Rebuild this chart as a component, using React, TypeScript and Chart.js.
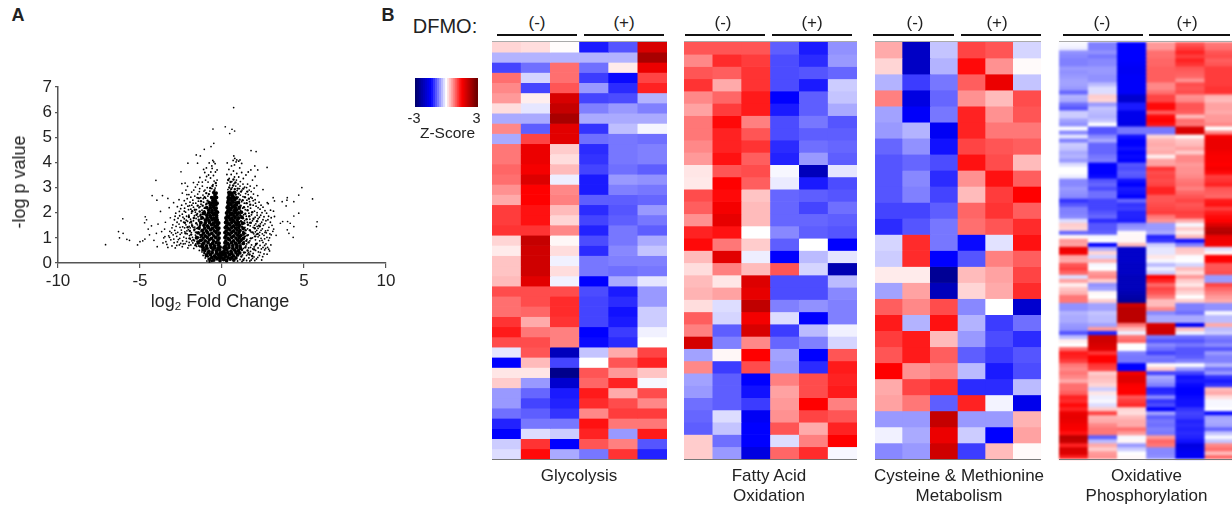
import React, { useEffect, useRef } from "react";
import { Chart, registerables } from "chart.js";

Chart.register(...registerables);

const FONT = '"Liberation Sans", Arial, sans-serif';
const INK = "#222222";

// ---------- Panel A : volcano plot ----------
const xTickLabels = [-10, -5, 0, 5, 10];
const yTickLabels = [0, 1, 2, 3, 4, 5, 6, 7];

const outlierPoints = [
  [0.71, 6.18], [-0.55, 5.33], [0.2, 5.42], [0.61, 5.32], [0.77, 5.25], [0.47, 5.15], [-0.5, 4.76], [-0.67, 4.63],
  [-1.08, 4.52], [-1.57, 4.3], [-1.32, 4.26], [1.77, 4.47], [2.08, 4.43], [-1.49, 3.97], [-2.08, 3.97], [-2.5, 3.63],
  [-4.03, 3.29], [2.75, 3.8], [2.0, 3.86], [2.18, 3.7], [4.87, 3.0], [5.52, 2.55], [4.68, 2.7], [3.12, 2.6],
  [3.98, 2.6], [3.2, 2.47], [3.67, 2.44], [3.96, 2.5], [3.91, 2.27], [4.38, 2.44], [4.68, 1.98], [4.38, 1.87],
  [5.8, 1.64], [5.76, 1.45], [-6.05, 1.76], [-6.31, 1.25], [-6.03, 1.18], [-6.25, 1.0], [-5.8, 0.94], [-5.64, 0.9],
  [-7.1, 0.73], [-5.15, 0.72], [-5.0, 0.85], [-4.83, 0.88], [-4.26, 2.68], [-3.63, 2.68], [-3.97, 2.5], [-3.3, 2.57],
  [-4.68, 1.84], [-4.72, 1.6], [-4.6, 1.72], [4.34, 1.02], [3.7, 1.65], [3.56, 1.58], [4.0, 1.65], [4.16, 1.58],
  [4.38, 1.45], [3.98, 1.32], [4.08, 1.18], [3.3, 1.1], [-4.5, 1.35], [-4.42, 1.12], [-4.7, 0.95], [-4.3, 1.48],
  [-4.15, 0.9], [-4.0, 1.18], [-3.95, 0.65], [-3.75, 2.05], [-3.9, 1.55], [-3.68, 1.25], [-3.55, 1.0], [-3.6, 0.8],
  [-3.45, 1.62], [-3.5, 1.35], [-3.48, 1.05], [-3.42, 0.85], [-3.22, 2.2], [-3.15, 1.8], [-3.05, 1.4], [-2.95, 2.4],
];

const fringeLeft = [
  [-3.3, 0.62], [-3.05, 0.68], [-2.85, 0.6], [-2.6, 0.72], [-2.42, 0.65], [-2.25, 0.77], [-2.08, 0.6], [-1.9, 0.72],
  [-1.72, 0.58], [-1.55, 0.66], [-1.38, 0.5], [-1.22, 0.44], [-1.45, 0.82], [-1.68, 0.88], [-1.93, 0.95], [-2.18, 0.98],
  [-2.4, 0.88], [-2.66, 0.93], [-2.92, 0.81], [-3.12, 0.92], [-3.25, 1.08], [-2.98, 1.12], [-2.76, 1.06], [-2.55, 1.14],
  [-2.33, 1.03], [-2.12, 1.16], [-1.98, 1.09], [-1.8, 1.02], [-1.62, 1.11], [-1.48, 0.97], [-1.35, 1.13], [-1.28, 0.78],
  [-3.18, 1.26], [-2.88, 1.3], [-2.7, 1.22], [-2.48, 1.31], [-2.27, 1.24], [-2.05, 1.33], [-1.87, 1.21], [-1.7, 1.29],
  [-1.52, 1.2], [-1.38, 1.34], [-1.28, 1.24], [-3.0, 1.52], [-2.8, 1.46], [-2.62, 1.55], [-2.4, 1.44], [-2.2, 1.52],
  [-2.0, 1.46], [-1.84, 1.55], [-1.66, 1.43], [-1.5, 1.52], [-1.36, 1.46], [-1.25, 1.58], [-2.9, 1.72], [-2.68, 1.78],
  [-2.5, 1.68], [-2.3, 1.76], [-2.1, 1.66], [-1.92, 1.74], [-1.74, 1.68], [-1.58, 1.77], [-1.42, 1.67], [-1.28, 1.74],
  [-2.82, 1.98], [-2.6, 2.05], [-2.42, 1.94], [-2.22, 2.02], [-2.02, 1.9], [-1.86, 1.98], [-1.68, 1.88], [-1.5, 1.96],
  [-1.34, 1.87], [-1.18, 1.93], [-2.72, 2.24], [-2.46, 2.3], [-2.28, 2.18], [-2.08, 2.26], [-1.9, 2.14], [-1.74, 2.22],
  [-1.56, 2.12], [-1.4, 2.2], [-1.22, 2.1], [-1.08, 2.18], [-2.62, 2.52], [-2.3, 2.48], [-2.12, 2.56], [-1.95, 2.42],
  [-1.78, 2.5], [-1.6, 2.38], [-1.44, 2.46], [-1.28, 2.34], [-1.12, 2.42], [-0.98, 2.32], [-2.42, 2.78], [-2.2, 2.9],
  [-2.02, 2.72], [-1.85, 2.82], [-1.66, 2.66], [-1.48, 2.74], [-1.3, 2.6], [-1.16, 2.7], [-1.0, 2.58], [-0.86, 2.66],
  [-2.45, 3.16], [-2.25, 3.18], [-2.1, 3.05], [-1.62, 3.02], [-1.5, 3.12], [-1.36, 2.96], [-1.2, 3.06], [-1.04, 2.9],
  [-0.9, 3.0], [-0.74, 2.86], [-0.62, 2.96], [-0.5, 2.84], [-0.42, 2.98], [-1.0, 3.3], [-0.85, 3.22], [-0.7, 3.38],
  [-0.55, 3.12], [-0.48, 3.26], [-0.35, 3.08], [-0.3, 3.3], [-0.82, 3.5], [-0.68, 3.62], [-0.52, 3.48], [-0.4, 3.62],
  [-1.12, 3.72], [-0.95, 3.78], [-0.62, 3.86], [-0.5, 4.02], [-0.42, 3.95], [-0.56, 4.08], [-0.78, 3.98], [-1.05, 3.6],
  [-1.35, 3.4], [-1.2, 3.22], [-0.3, 3.7], [-1.25, 0.62], [-1.42, 0.68], [-1.6, 0.76], [-1.78, 0.8], [-2.0, 0.82],
  [-2.52, 0.78], [-2.76, 0.7], [-1.15, 0.3], [-1.02, 0.2], [-0.92, 0.08], [-0.84, 0.16], [-1.3, 1.02], [-1.56, 1.38],
  [-1.76, 1.42], [-1.96, 1.6], [-2.16, 1.86], [-1.46, 1.84], [-1.62, 2.02], [-1.84, 2.3], [-1.34, 2.24], [-1.14, 2.56],
  [-3.36, 0.74], [-3.2, 1.02], [-3.08, 1.2], [-2.94, 0.95], [-2.82, 1.18], [-2.72, 0.84], [-2.58, 0.98], [-2.46, 1.2],
  [-2.36, 0.76], [-2.28, 1.4], [-2.16, 0.86], [-2.14, 1.28], [-2.02, 0.7], [-1.84, 0.88], [-1.94, 1.4], [-2.34, 1.62],
  [-2.56, 1.42], [-2.74, 1.62], [-2.86, 1.86], [-2.58, 1.88], [-2.38, 1.82], [-2.18, 1.7], [-2.04, 2.12], [-2.3, 2.06],
  [-2.52, 2.16], [-2.2, 2.36], [-1.98, 2.28], [-1.76, 2.38], [-1.52, 2.6], [-1.9, 2.62], [-2.14, 2.72], [-1.72, 2.9],
  [-1.38, 2.84], [-1.1, 2.86], [-1.42, 3.22], [-1.74, 3.2], [-0.94, 3.44], [-0.6, 3.76],
];

const fringeRight = [
  [0.95, 0.08], [1.1, 0.14], [1.22, 0.06], [1.36, 0.18], [1.5, 0.1], [1.64, 0.2], [1.78, 0.12], [1.95, 0.24],
  [2.1, 0.16], [2.28, 0.3], [2.42, 0.12], [2.56, 0.36], [1.25, 0.32], [1.42, 0.42], [1.58, 0.36], [1.74, 0.46],
  [1.9, 0.38], [2.05, 0.5], [2.22, 0.44], [2.4, 0.56], [2.6, 0.52], [2.78, 0.62], [2.9, 0.48], [1.3, 0.58],
  [1.46, 0.68], [1.62, 0.6], [1.8, 0.72], [1.96, 0.64], [2.14, 0.78], [2.32, 0.7], [2.5, 0.82], [2.68, 0.76],
  [2.84, 0.9], [2.98, 0.72], [1.34, 0.86], [1.52, 0.94], [1.7, 0.88], [1.86, 1.0], [2.04, 0.92], [2.2, 1.04],
  [2.38, 0.98], [2.56, 1.1], [2.74, 1.02], [2.92, 1.16], [3.1, 1.26], [1.28, 1.1], [1.44, 1.18], [1.6, 1.12],
  [1.76, 1.24], [1.94, 1.16], [2.12, 1.3], [2.3, 1.22], [2.46, 1.36], [2.66, 1.28], [2.86, 1.42], [3.05, 1.5],
  [1.26, 1.34], [1.4, 1.42], [1.56, 1.36], [1.72, 1.48], [1.9, 1.42], [2.06, 1.56], [2.24, 1.5], [2.42, 1.62],
  [2.62, 1.56], [2.8, 1.72], [3.0, 1.8], [3.14, 2.06], [1.24, 1.6], [1.38, 1.68], [1.54, 1.62], [1.7, 1.74],
  [1.86, 1.68], [2.02, 1.82], [2.2, 1.76], [2.36, 1.9], [2.56, 1.84], [2.72, 1.98], [2.96, 2.1], [1.18, 1.84],
  [1.32, 1.92], [1.48, 1.86], [1.64, 1.98], [1.8, 1.92], [1.98, 2.06], [2.14, 2.0], [2.32, 2.14], [2.5, 2.22],
  [2.76, 2.4], [2.82, 2.36], [1.12, 2.1], [1.26, 2.18], [1.42, 2.12], [1.58, 2.24], [1.74, 2.18], [1.9, 2.3],
  [2.08, 2.26], [2.26, 2.42], [1.05, 2.36], [1.2, 2.44], [1.36, 2.38], [1.52, 2.5], [1.68, 2.44], [1.84, 2.58],
  [2.02, 2.52], [2.18, 2.68], [2.5, 2.92], [0.98, 2.62], [1.12, 2.7], [1.28, 2.64], [1.44, 2.76], [1.6, 2.72],
  [1.78, 2.84], [1.96, 2.98], [2.12, 3.08], [0.92, 2.88], [1.06, 2.96], [1.22, 2.9], [1.38, 3.02], [1.56, 3.14],
  [1.72, 3.06], [1.86, 3.3], [2.02, 3.44], [0.72, 2.82], [0.84, 3.06], [0.98, 3.14], [1.12, 3.24], [1.3, 3.36],
  [1.46, 3.5], [1.6, 3.62], [1.76, 3.7], [0.5, 2.86], [0.62, 3.0], [0.74, 3.16], [0.88, 3.3], [1.02, 3.42],
  [1.2, 3.6], [0.36, 2.92], [0.48, 3.1], [0.6, 3.24], [0.76, 3.42], [0.9, 3.56], [1.08, 3.78], [0.32, 3.18],
  [0.44, 3.36], [0.56, 3.52], [0.7, 3.66], [0.3, 3.52], [0.42, 3.72], [0.58, 3.86], [0.32, 3.98], [0.76, 3.9],
  [0.86, 4.02], [0.72, 4.26], [0.78, 4.16], [0.9, 4.1], [1.02, 4.05], [1.2, 3.96], [1.1, 4.1], [0.68, 4.08],
  [1.36, 1.02], [1.5, 0.76], [1.68, 1.6], [2.1, 1.14], [2.3, 0.88], [2.52, 1.5], [2.7, 1.2], [2.9, 1.0],
  [2.85, 0.55], [2.75, 0.35], [2.6, 0.7], [2.48, 0.25], [3.0, 1.12], [3.15, 1.35], [2.95, 1.62], [3.2, 1.85],
  [1.7, 0.08], [1.86, 0.18], [2.0, 0.1], [2.18, 0.22], [2.34, 0.42], [2.5, 0.62], [2.66, 0.58], [2.2, 0.6],
  [2.04, 0.7], [1.88, 0.56], [1.74, 0.62], [1.62, 0.42], [1.5, 0.3], [2.44, 0.9], [2.6, 0.96], [2.28, 1.1],
  [2.46, 1.16], [2.62, 1.22], [2.8, 1.3], [2.38, 1.3], [2.2, 1.38], [2.04, 1.24], [1.98, 1.5], [2.14, 1.46],
  [2.34, 1.56], [2.5, 1.72], [2.68, 1.68], [2.84, 1.86], [2.28, 1.82], [2.44, 2.0], [2.62, 2.08], [2.14, 1.9],
  [2.2, 2.2], [2.38, 2.3], [2.04, 2.38], [1.9, 2.48], [1.76, 2.62], [1.92, 2.74], [1.66, 2.9], [1.5, 3.0],
  [1.28, 3.14], [1.1, 3.06],
];

const densePoints = [
  [-1.62, 0.71], [-1.74, 0.92], [-1.88, 1.13], [-1.55, 1.05], [-1.68, 1.33], [-1.82, 1.48], [-1.96, 1.27], [-2.1, 1.42],
  [-1.57, 1.58], [-1.72, 1.79], [-1.88, 1.64], [-2.02, 1.83], [-1.55, 1.92], [-1.66, 2.12], [-1.82, 2.06], [-1.48, 2.28],
  [-1.36, 2.05], [-1.28, 2.46], [-1.42, 2.58], [-1.18, 2.28], [-1.08, 2.06], [-1.06, 2.62], [-0.96, 2.78], [-0.88, 2.48],
  [-0.8, 2.74], [-0.72, 2.98], [-0.66, 2.62], [-0.58, 3.06], [-0.46, 2.9], [-0.38, 3.18], [-1.44, 1.02], [-1.5, 0.86],
  [-1.34, 0.66], [-1.2, 0.52], [-1.08, 0.4], [-0.98, 0.34], [-0.86, 0.26], [-0.76, 0.05], [-0.62, 0.08], [-1.34, 1.5],
  [-1.42, 1.72], [-1.3, 1.92], [-1.18, 2.0], [-1.98, 0.98], [-2.22, 1.18], [-2.26, 1.6], [-1.58, 1.22], [-1.46, 1.38],
  [-1.26, 1.62], [-1.14, 1.78], [-1.08, 1.94], [-1.02, 2.2], [-0.94, 2.36], [-1.22, 0.9], [-1.38, 0.88], [-1.12, 0.62],
  [1.3, 0.12], [1.18, 0.26], [1.34, 0.42], [1.22, 0.52], [1.42, 0.62], [1.56, 0.5], [1.48, 0.88], [1.62, 0.82],
  [1.76, 0.98], [1.4, 1.06], [1.54, 1.1], [1.7, 1.3], [1.86, 1.22], [2.0, 1.38], [1.44, 1.3], [1.58, 1.52],
  [1.76, 1.6], [1.92, 1.76], [1.36, 1.58], [1.5, 1.74], [1.66, 1.86], [1.84, 2.02], [1.28, 1.78], [1.42, 1.96],
  [1.56, 2.1], [1.72, 2.32], [1.2, 2.02], [1.34, 2.22], [1.5, 2.38], [1.64, 2.56], [1.14, 2.28], [1.26, 2.5],
  [1.4, 2.62], [1.54, 2.84], [1.08, 2.52], [1.02, 2.76], [1.16, 2.84], [1.3, 2.96], [0.96, 2.96], [0.84, 2.72],
  [0.78, 2.94], [0.68, 3.08], [0.56, 2.94], [0.44, 3.0], [0.82, 3.2], [0.7, 3.32], [0.52, 3.22], [0.38, 3.3],
  [1.12, 0.62], [1.26, 0.76], [1.16, 0.94], [1.3, 1.24], [1.22, 1.44], [1.16, 1.66], [1.12, 1.9], [1.04, 2.16],
  [1.96, 0.54], [2.08, 0.76], [1.68, 0.34], [1.84, 0.28], [2.18, 1.16], [2.02, 1.06], [2.3, 1.46], [2.14, 1.66],
];

const corePoints = [
  [-0.75, 0.15], [-0.5, 0.12], [-0.3, 0.17], [-0.12, 0.1], [0.1, 0.14], [0.28, 0.1], [0.5, 0.16], [0.72, 0.12],
  [-0.95, 0.3], [-0.7, 0.33], [-0.45, 0.28], [-0.22, 0.32], [-0.06, 0.3], [0.06, 0.33], [0.24, 0.29], [0.46, 0.33], [0.7, 0.28], [0.95, 0.32],
  [-1.05, 0.5], [-0.8, 0.47], [-0.55, 0.52], [-0.33, 0.48], [-0.14, 0.52], [0.13, 0.48], [0.3, 0.52], [0.55, 0.47], [0.78, 0.51], [1.0, 0.49],
  [-1.2, 0.7], [-0.95, 0.68], [-0.7, 0.72], [-0.46, 0.68], [-0.22, 0.71], [0.2, 0.68], [0.42, 0.72], [0.66, 0.69], [0.9, 0.72], [1.1, 0.68],
  [-1.3, 0.9], [-1.02, 0.88], [-0.78, 0.92], [-0.52, 0.88], [-0.25, 0.91], [0.24, 0.88], [0.46, 0.92], [0.7, 0.88], [0.95, 0.91], [1.16, 0.9],
  [-1.25, 1.1], [-1.02, 1.08], [-0.78, 1.12], [-0.5, 1.08], [-0.25, 1.11], [0.25, 1.09], [0.48, 1.12], [0.72, 1.08], [0.96, 1.11], [1.14, 1.09],
  [-1.2, 1.3], [-0.95, 1.28], [-0.7, 1.32], [-0.47, 1.28], [-0.26, 1.31], [0.26, 1.28], [0.48, 1.32], [0.7, 1.28], [0.92, 1.31], [1.1, 1.29],
  [-1.1, 1.5], [-0.88, 1.48], [-0.64, 1.52], [-0.44, 1.48], [-0.28, 1.51], [0.28, 1.48], [0.48, 1.52], [0.7, 1.48], [0.9, 1.51], [1.06, 1.5],
  [-1.0, 1.7], [-0.8, 1.68], [-0.6, 1.72], [-0.42, 1.68], [-0.29, 1.71], [0.29, 1.68], [0.5, 1.72], [0.7, 1.68], [0.92, 1.71],
  [-0.92, 1.9], [-0.72, 1.88], [-0.52, 1.92], [-0.33, 1.89], [0.33, 1.88], [0.52, 1.92], [0.72, 1.88], [0.92, 1.91],
  [-0.8, 2.1], [-0.6, 2.08], [-0.42, 2.12], [-0.35, 2.04], [0.36, 2.08], [0.54, 2.12], [0.74, 2.08], [0.9, 2.11],
  [-0.7, 2.3], [-0.52, 2.28], [-0.37, 2.32], [0.38, 2.28], [0.56, 2.32], [0.76, 2.28], [0.88, 2.31],
  [-0.55, 2.5], [-0.4, 2.48], [0.4, 2.5], [0.6, 2.48], [0.78, 2.52],
  [-0.43, 2.7], [0.44, 2.7], [0.64, 2.68],
  [-0.62, 0.22], [-0.4, 0.23], [-0.2, 0.21], [-0.02, 0.2], [0.18, 0.23], [0.38, 0.21], [0.6, 0.22], [0.85, 0.2],
  [-0.85, 0.4], [-0.6, 0.41], [-0.34, 0.39], [-0.12, 0.4], [0.02, 0.42], [0.16, 0.39], [0.35, 0.41], [0.6, 0.38], [0.85, 0.41], [1.08, 0.4],
  [-1.15, 0.6], [-0.92, 0.59], [-0.66, 0.62], [-0.44, 0.6], [-0.24, 0.58], [-0.12, 0.63], [0.12, 0.61], [0.22, 0.58], [0.42, 0.62], [0.66, 0.59], [0.9, 0.62], [1.12, 0.58],
  [-1.45, 0.8], [-1.12, 0.79], [-0.85, 0.81], [-0.58, 0.78], [-0.36, 0.81], [-0.18, 0.79], [0.18, 0.81], [0.34, 0.78], [0.58, 0.81], [0.82, 0.79], [1.05, 0.82], [1.3, 0.78],
  [-1.55, 1.0], [-1.15, 0.99], [-0.9, 1.02], [-0.64, 0.98], [-0.38, 1.01], [-0.18, 0.99], [0.18, 1.01], [0.37, 0.98], [0.6, 1.02], [0.85, 0.99], [1.05, 1.01], [1.3, 0.98],
  [-1.45, 1.2], [-1.12, 1.19], [-0.88, 1.21], [-0.62, 1.18], [-0.36, 1.21], [-0.17, 1.19], [0.18, 1.21], [0.38, 1.18], [0.6, 1.22], [0.84, 1.19], [1.04, 1.21], [1.32, 1.18],
  [-1.4, 1.4], [-1.05, 1.39], [-0.82, 1.41], [-0.58, 1.38], [-0.36, 1.42], [-0.19, 1.39], [0.2, 1.41], [0.38, 1.38], [0.6, 1.42], [0.82, 1.39], [1.02, 1.41], [1.3, 1.38],
  [-1.3, 1.6], [-1.02, 1.59], [-0.76, 1.61], [-0.52, 1.58], [-0.34, 1.62], [-0.2, 1.59], [0.22, 1.61], [0.38, 1.58], [0.6, 1.62], [0.82, 1.59], [1.0, 1.61], [1.25, 1.58],
  [-1.22, 1.8], [-0.9, 1.79], [-0.68, 1.81], [-0.5, 1.78], [-0.34, 1.82], [0.24, 1.79], [0.4, 1.82], [0.6, 1.78], [0.8, 1.81], [1.02, 1.79], [1.22, 1.82],
  [-1.08, 2.0], [-0.82, 1.99], [-0.62, 2.01], [-0.44, 1.98], [-0.28, 2.02], [0.28, 1.99], [0.44, 2.02], [0.62, 1.98], [0.82, 2.01], [1.02, 1.99], [1.18, 2.02],
  [-0.92, 2.2], [-0.7, 2.19], [-0.5, 2.21], [-0.36, 2.18], [0.32, 2.21], [0.46, 2.18], [0.64, 2.22], [0.82, 2.19], [1.05, 2.21],
  [-0.78, 2.4], [-0.6, 2.39], [-0.46, 2.41], [-0.3, 2.38], [0.36, 2.41], [0.5, 2.38], [0.68, 2.42], [0.86, 2.39], [1.0, 2.41],
  [-0.62, 2.6], [-0.48, 2.59], [-0.34, 2.61], [0.38, 2.6], [0.52, 2.58], [0.7, 2.61], [0.88, 2.59],
  [-0.5, 2.8], [-0.36, 2.78], [0.42, 2.8], [0.58, 2.78], [0.76, 2.81],
];

// ---------- Panel B : heat maps (z-scores, six columns per row) ----------
const legendSteps = [
  -3, -2.8, -2.6, -2.4, -2.2, -2, -1.8, -1.6, -1.4, -1.2, -1, -0.8, -0.6, -0.4, -0.2, 0,
  0.2, 0.4, 0.6, 0.8, 1, 1.2, 1.4, 1.6, 1.8, 2, 2.2, 2.4, 2.6, 2.8, 3,
];

const glycolysis = [
  [0.25, 0.2, 0.02, -1.35, -1.0, 1.9], [-0.45, -0.45, -0.45, -0.45, -0.45, 2.4], [-1.1, -0.85, 0.85, -0.85, 0.12, 1.7],
  [0.85, -0.25, 0.85, -1.15, -1.45, 1.1], [0.7, -1.1, 1.0, -0.6, -1.25, 1.3], [0.6, 0.1, 1.9, -1.1, -1.05, -0.45],
  [0.2, -0.15, 2.1, -0.75, -0.6, -0.75], [-0.5, -0.5, 2.4, -0.5, -0.5, -0.5], [0.7, -0.95, 1.8, -1.2, -0.38, -0.06],
  [-0.5, 1.1, 1.8, -0.85, -0.8, -0.85], [0.8, 1.7, 0.3, -1.25, -0.8, -0.75], [0.8, 1.7, 0.2, -1.2, -0.8, -0.75],
  [0.9, 1.6, 0.4, -1.1, -0.85, -0.95], [0.85, 1.85, -0.1, -1.35, -0.6, -0.65], [0.65, 1.5, 0.7, -1.35, -0.75, -0.8],
  [0.5, 1.5, 0.75, -0.95, -0.95, -0.9], [1.15, 1.4, 0.4, -1.25, -1.0, -0.6], [1.15, 1.4, 0.25, -1.1, -0.95, -0.8],
  [1.2, 1.2, 0.7, -1.3, -0.8, -0.95], [0.25, 2.1, 0.05, -1.05, -0.8, -0.5], [0.12, 2.0, 0.2, -1.25, -0.7, -0.35],
  [0.35, 2.0, -0.08, -0.8, -0.75, -0.75], [0.35, 2.0, 0.2, -0.8, -0.85, -0.8], [0.4, 1.8, -0.08, -1.5, -0.5, -0.15],
  [1.05, 1.05, 1.05, -1.05, -1.35, -0.6], [0.85, 1.05, 1.25, -1.1, -1.25, -0.6], [0.85, 0.9, 1.25, -1.1, -1.4, -0.3],
  [1.2, 0.5, 1.2, -1.1, -1.35, -0.3], [1.35, 0.8, 0.75, -1.5, -1.15, -0.08], [1.05, 1.05, 0.75, -1.45, -1.25, 0],
  [-0.15, 1.0, -2.2, -0.35, 0.5, 1.1], [-1.5, 0.4, -1.1, 0, 1.0, 1.3], [0.15, 0.15, -2.7, 1.0, 0.6, 0.35],
  [0.3, -0.6, -2.0, 0.9, 1.3, -0.05], [-0.6, -0.9, -1.35, 1.35, 0.5, 1.05], [-0.6, -1.1, -1.3, 1.25, 1.05, 0.7],
  [-0.85, -0.95, -1.2, 0.7, 1.15, 1.15], [-1.3, -0.8, -0.8, 1.4, 0.8, 0.8], [-1.5, -0.2, -0.3, 1.3, -0.6, 1.35],
  [-0.3, 1.2, -1.5, 1.0, 0.75, -1.0], [-0.2, 1.45, -0.5, -0.8, 1.2, -1.3],
];

const fattyAcid = [
  [1.0, 1.0, 1.0, -0.95, -1.35, -0.65], [0.7, 1.25, 1.15, -1.05, -1.25, -0.6], [1.0, 0.95, 1.2, -1.05, -1.0, -0.9],
  [1.2, 0.5, 1.2, -1.05, -1.35, -0.3], [0.7, 0.9, 1.35, -1.5, -0.95, -0.35], [0.55, 1.15, 1.35, -1.35, -0.95, -0.5],
  [0.8, 1.45, 0.75, -1.05, -0.8, -1.0], [0.8, 1.3, 1.0, -1.05, -0.95, -0.95], [0.7, 1.3, 1.2, -1.25, -0.85, -0.9],
  [0.6, 1.4, 0.95, -1.3, -0.6, -0.95], [0.15, 1.0, 1.05, -0.05, -2.2, -0.15], [0.13, 1.5, 0.95, -0.12, -1.35, -1.05],
  [1.05, 1.45, 0.35, -0.9, -0.95, -1.0], [0.95, 1.6, 0.4, -0.9, -1.1, -0.85], [0.65, 1.75, 0.4, -0.9, -0.9, -0.95],
  [1.3, 1.4, 0, -0.7, -0.95, -1.0], [1.45, 0.8, 0.3, -0.95, 0, -1.5], [0.4, 1.8, -0.1, -1.5, -0.4, -0.15],
  [0.2, 0.75, 0.4, 1.0, -0.25, -2.3], [0.4, 0.15, 1.85, -1.05, -1.05, -0.4], [0.45, 0.55, 1.75, -1.05, -1.05, -0.7],
  [0.2, -0.2, 2.15, -0.75, -0.65, -0.75], [0.95, -0.25, 1.6, -0.2, -1.5, -0.75], [0.75, -0.95, 1.9, -1.15, -0.4, -0.08],
  [1.95, -0.75, 0.7, -0.9, -0.75, -0.25], [-0.55, 0.05, 1.5, -0.55, -1.5, 1.0], [0.7, -1.15, 1.05, -0.6, -1.25, 1.35],
  [-0.55, -0.95, -1.5, 0.75, 1.05, 1.3], [-0.6, -0.95, -1.4, 0.55, 1.05, 1.35], [-0.85, -0.95, -1.15, 0.6, 1.5, 0.75],
  [-0.9, -0.2, -1.6, 0.65, 1.1, 1.0], [-0.95, -0.35, -1.5, 1.0, 0.5, 1.3], [0.3, -0.85, -1.5, -0.2, 0.75, 1.5],
  [0.3, -0.6, -1.8, 0.9, 1.25, -0.05],
];

const cysteine = [
  [0.5, -2.1, -0.35, 1.1, 1.0, -0.25], [0.25, -2.1, -0.45, 1.45, 0.65, 0.03], [-0.45, -1.15, -0.8, 0.95, 1.7, -0.35],
  [0.75, -1.8, -0.9, 0.65, 0.4, 1.05], [-0.55, -1.55, -0.8, 1.3, 0.65, 1.0], [-0.6, -0.45, -1.6, 1.3, 0.8, 0.8],
  [-0.9, -0.65, -1.4, 1.1, 1.0, 0.95], [-1.0, -0.9, -1.05, 1.4, 1.05, 0.4], [-1.0, -0.7, -1.25, 0.65, 1.4, 0.95],
  [-1.0, -0.75, -1.1, 0.4, 1.15, 1.5], [-1.1, -1.1, -0.95, 0.9, 1.2, 0.95], [-1.25, -1.0, -0.8, 0.85, 1.0, 1.25],
  [-0.25, 1.25, -0.8, -1.45, -0.17, 1.4], [-0.3, 1.25, -1.5, -1.0, 0.75, 0.95], [0.12, 0.12, -2.6, 0.4, 0.55, 1.1],
  [-0.55, 0.55, -2.2, 0.25, 0.5, 1.25], [0.95, 0.7, 1.05, -0.7, 0, -2.0], [1.35, -0.45, 1.4, -0.45, -1.15, -0.85],
  [1.15, 1.35, 0.4, -0.6, -1.05, -1.25], [1.0, 1.35, 0.95, -0.95, -1.15, -1.0], [1.5, 0.65, 0.75, -0.4, -1.35, -1.05],
  [0.5, 1.1, 1.25, -1.25, -1.25, -0.4], [0.55, 0.8, -0.95, 1.3, -0.07, -1.7], [-0.6, -0.6, 2.1, -0.6, -0.6, 0.45],
  [-0.08, -0.5, 1.7, -0.3, -1.5, 0.55], [-0.7, -0.6, 2.0, -1.15, 0.4, 0.03],
];

const oxphos = [
  [-0.05, -0.75, -1.5, 0.6, 1.0, 0.8], [-0.1, -0.75, -1.5, 0.6, 1.15, 0.85], [-0.65, -0.65, -1.5, 0.85, 1.3, 1.0], [-0.7, -0.8, -1.5, 0.85, 1.15, 1.05],
  [-0.75, -0.7, -1.5, 0.9, 1.3, 0.95], [-0.75, -0.7, -1.55, 0.9, 1.2, 1.0], [-0.6, -0.6, -1.6, 0.95, 1.0, 1.15], [-0.65, -0.6, -1.6, 0.95, 0.95, 1.15],
  [-0.6, -0.65, -1.55, 0.95, 0.9, 1.15], [-0.55, -0.65, -1.55, 0.95, 0.65, 1.15], [-0.55, -0.4, -1.55, 0.7, 1.05, 1.15], [-0.6, -0.2, -1.55, 0.7, 1.0, 1.2],
  [-0.9, -0.2, -1.55, 0.85, 1.05, 1.2], [-0.45, 0.3, -2.0, 1.1, 0.65, 0.45], [-0.5, 0.25, -2.0, 1.1, 0.7, 0.4], [-0.85, -0.6, -1.35, 1.45, 1.0, 0.55],
  [-1.0, -0.35, -1.35, 1.45, 1.0, 0.55], [-0.3, -0.4, -1.7, 0.95, 0.95, 0.5], [-0.3, -0.45, -1.7, 1.45, 0.4, 0.6], [-0.55, -0.35, -1.7, 1.5, 0.85, 0.6],
  [-0.65, 0, -1.75, 1.4, 0.8, 0.7], [0, -1.0, -0.8, -0.8, 1.9, 0], [-0.7, -1.0, -0.8, -0.8, 1.9, 0.7], [-0.15, -0.7, -1.4, 0.25, 0.05, 1.6],
  [-0.75, -0.5, -1.5, 0.45, 0.35, 1.7], [-0.3, -0.9, -1.5, 0.5, 0.4, 1.7], [-0.35, -0.9, -1.4, 0.45, 0.55, 1.7], [-0.5, -0.9, -1.5, 0.5, 0.3, 1.6],
  [-0.45, -0.8, -1.45, 0.1, 0.7, 1.55], [-0.6, -0.75, -1.5, 0.55, 0.7, 1.55], [-0.2, -1.5, -1.0, 0.55, 0.6, 1.5], [0, -1.5, -1.05, 1.2, 0.65, 1.6],
  [0, -1.5, -0.95, 1.05, 0.65, 1.45], [-0.1, -1.45, -1.0, 1.1, 0.7, 1.15], [-0.7, -1.0, -1.4, 1.05, 0.8, 1.2], [-0.7, -0.9, -1.5, 1.1, 0.85, 1.3],
  [-0.6, -1.05, -1.35, 1.3, 0.75, 1.0], [-0.65, -0.85, -1.4, 1.3, 0.9, 0.95], [-0.7, -0.85, -1.5, 1.0, 1.0, 0.9], [-1.2, -1.1, -0.9, 1.0, 1.1, 1.35],
  [-1.0, -1.1, -1.2, 1.05, 1.0, 1.4], [-0.75, -1.1, -1.15, 1.1, 1.05, 1.15], [-0.75, -1.0, -1.3, 1.15, 1.15, 1.35], [-0.7, -0.9, -1.3, 0.8, 1.1, 1.45],
  [-0.2, -1.25, -1.35, 0.65, 0.5, 1.5], [0.3, -1.0, -0.7, -0.6, -0.05, 1.85], [0.25, -1.0, -0.6, -0.6, 0.3, 2.2], [-0.9, -0.95, 0.03, -0.5, 0.1, 2.3],
  [0.05, -0.05, 0.05, -1.3, 0.4, 1.7], [0.6, 0, 0.05, -1.2, -1.4, 1.65], [0.55, -1.5, 0.4, -0.3, -0.75, 1.6], [1.7, -0.5, -2.05, -0.15, 0.35, -0.2],
  [1.6, 0.25, -2.05, -0.15, 0.3, 0.05], [0.55, -0.25, -2.05, 0.15, -0.02, 1.5], [0.5, 0.45, -2.05, -0.05, 0, 1.5], [1.0, -0.05, -2.1, -0.4, -0.25, 1.0],
  [1.1, 0, -2.1, -0.1, 0.4, 1.0], [0.9, 0.6, -2.1, -0.3, 0.2, 1.05], [-0.2, 0.7, -2.2, 1.5, 0.6, -0.6], [0.55, 0.3, -2.2, 1.3, 0.3, -0.6],
  [0.1, -0.65, -2.2, 0.9, 0.15, 1.1], [0.35, -0.55, -2.2, 1.1, 0.4, 0.9], [0.45, 0.05, -2.3, 1.0, 0.25, 0.75], [0.8, 0, -2.4, 0.8, 0, 0.6],
  [0.8, 0.3, -2.5, 0.4, 0.3, 0.5], [-0.65, -0.55, 2.0, 0.4, -0.75, -0.65], [-0.65, -0.55, 2.2, 0.7, -0.75, -0.65], [-0.45, -0.35, 2.2, -0.7, -0.85, -0.05],
  [-0.5, -0.4, 2.2, -0.5, -0.5, -0.4], [-0.5, -0.4, 2.2, -0.5, -0.5, -0.4], [-0.6, -0.55, 0.8, 1.9, -1.6, 0.5], [-0.65, 0.6, 0.4, 2.0, 0.4, -0.4],
  [-1.0, -1.3, -0.1, 2.0, -0.1, -0.3], [-0.4, 2.0, 0.8, -0.8, -0.85, -0.75], [0.1, 2.0, 0.9, -1.0, -1.0, -0.85], [0, 1.9, 0, -0.7, -0.8, -0.7],
  [0.9, 1.8, 0, -0.85, -1.0, -1.0], [1.35, 1.2, -0.75, -1.1, -1.0, -0.6], [1.3, 1.5, -0.8, -0.8, -0.95, -0.75], [1.15, 1.5, -0.8, -0.85, -0.75, -0.75],
  [0.8, 1.2, -1.5, 0.05, -0.03, -0.45], [0.7, 1.1, -1.5, 0.35, -0.6, -0.85], [0.8, 0.3, 1.6, -1.1, -1.1, -0.6], [0.7, 0.4, 1.8, -0.5, -1.4, -1.2],
  [0.5, 0.35, 1.8, -0.6, -1.35, -1.35], [0.85, 0.25, 1.55, -0.75, -1.45, -1.2], [0.85, -0.3, 1.5, -1.3, -1.5, 0.4], [0.95, 0.15, 1.5, -1.25, -1.5, 0.5],
  [1.3, -0.1, 1.0, -0.7, -1.45, 0.2], [1.25, -0.05, 1.15, -1.2, -1.4, -0.05], [1.45, -0.2, 1.25, -1.05, -1.4, -0.05], [1.3, 0.3, 0.25, -1.5, -1.2, 0],
  [1.7, 1.1, 0.2, -0.55, -1.1, -1.45], [1.75, 0.45, 0.4, -0.95, -1.15, -0.55], [1.7, 0.5, 0.5, -0.8, -1.3, -0.5], [1.6, 0.7, 0.5, -0.85, -1.25, -0.55],
  [1.55, 0.8, 0.85, -0.75, -1.3, -0.9], [1.4, 0.8, 0.6, -0.8, -1.25, -0.35], [2.2, -0.95, -0.05, 0.6, -1.3, -0.05], [2.1, -0.4, 0.05, 0.9, -1.4, -0.35],
  [1.3, 0.5, -0.6, 0.8, -1.8, 0.7], [1.9, 0.3, -0.3, -0.7, -1.7, 0.85], [1.85, 0.6, 0, -0.7, -1.6, 0.4], [1.3, 0.65, 0.05, -0.65, -1.6, 0.9],
];

const heatColumns = ["a", "b", "c", "d", "e", "f"];

function zColor(z: number): string {
  const lerp = (a: number, b: number, t: number) => Math.round(a + (b - a) * t);
  const t = Math.min(1, Math.abs(z) / 1.5);
  const d = Math.min(1, Math.max(0, (Math.abs(z) - 1.5) / 1.5));
  if (z < 0) {
    if (Math.abs(z) <= 1.5) return `rgb(${lerp(255, 0, t)},${lerp(255, 0, t)},255)`;
    return `rgb(0,0,${lerp(255, 110, d)})`;
  }
  if (z <= 1.5) return `rgb(255,${lerp(255, 0, t)},${lerp(255, 0, t)})`;
  return `rgb(${lerp(255, 110, d)},0,0)`;
}

function useChart(build: (c: HTMLCanvasElement) => Chart) {
  const ref = useRef<HTMLCanvasElement | null>(null);
  useEffect(() => {
    const chart = build(ref.current!);
    return () => chart.destroy();
  }, []);
  return ref;
}

function Heat({ rows, left, width, top = 42, height = 417, blur = 0.6 }: { rows: number[][]; left: number; width: number; top?: number; height?: number; blur?: number }) {
  const ref = useChart((c) =>
    new Chart(c, {
      type: "bar",
      data: {
        labels: heatColumns,
        datasets: rows.map((r) => ({
          data: r.map(() => 1),
          backgroundColor: r.map(zColor),
          borderWidth: 0,
          barPercentage: 1,
          categoryPercentage: 1,
          stack: "s",
        })),
      },
      options: {
        animation: false,
        responsive: false,
        layout: { padding: 0 },
        plugins: { legend: { display: false }, tooltip: { enabled: false } },
        scales: {
          x: { display: false, stacked: true },
          y: { display: false, stacked: true, reverse: true, min: 0, max: rows.length },
        },
      },
    })
  );
  return <canvas ref={ref} width={width} height={height} style={{ position: "absolute", left, top, width, height, filter: `blur(${blur}px)` }} />;
}

function ColorKey() {
  const ref = useChart((c) =>
    new Chart(c, {
      type: "bar",
      data: {
        labels: legendSteps.map(String),
        datasets: [{ data: legendSteps.map(() => 1), backgroundColor: legendSteps.map(zColor), borderWidth: 0, barPercentage: 1, categoryPercentage: 1 }],
      },
      options: {
        animation: false,
        responsive: false,
        layout: { padding: 0 },
        plugins: { legend: { display: false }, tooltip: { enabled: false } },
        scales: { x: { display: false }, y: { display: false, min: 0, max: 1 } },
      },
    })
  );
  return <canvas ref={ref} width={63} height={29} style={{ position: "absolute", left: 415, top: 78, width: 63, height: 29, filter: "blur(0.6px)" }} />;
}

function Volcano() {
  const mk = (pts: number[][], radius: number) => ({
    data: pts.map(([x, y]) => ({ x, y })),
    pointRadius: radius,
    pointBackgroundColor: "#000000",
    pointBorderWidth: 0,
    showLine: false,
    clip: false as const,
  });
  const ref = useChart((c) =>
    new Chart(c, {
      type: "scatter",
      data: { datasets: [mk(corePoints, 1.9), mk(densePoints, 1.2), mk(outlierPoints, 0.85), mk(fringeLeft, 0.9), mk(fringeRight, 0.9)] },
      options: {
        animation: false,
        responsive: false,
        layout: { padding: { top: 17, right: 24, left: 0, bottom: 0 } },
        plugins: { legend: { display: false }, tooltip: { enabled: false } },
        scales: {
          x: {
            type: "linear",
            min: -10,
            max: 10,
            afterBuildTicks: (s: any) => { s.ticks = xTickLabels.map((value) => ({ value })); },
            afterFit: (s: any) => { s.height = 35; },
            grid: { drawOnChartArea: false, drawTicks: true, tickLength: 5, color: "#555555", lineWidth: 1.2 },
            border: { color: "#555555", width: 1.5 },
            ticks: { color: INK, font: { family: FONT, size: 17 }, padding: 3, maxRotation: 0 },
          },
          y: {
            type: "linear",
            min: 0,
            max: 7,
            afterBuildTicks: (s: any) => { s.ticks = yTickLabels.map((value) => ({ value })); },
            afterFit: (s: any) => { s.width = 58; },
            grid: { drawOnChartArea: false, drawTicks: true, tickLength: 3, color: "#555555", lineWidth: 1.2 },
            border: { color: "#555555", width: 1.5 },
            ticks: { color: INK, font: { family: FONT, size: 17 }, padding: 3 },
          },
        },
      },
    })
  );
  return <canvas ref={ref} width={410} height={228} style={{ position: "absolute", left: 0, top: 70, width: 410, height: 228, filter: "blur(0.4px)" }} />;
}

function Txt({ x, y, size, children, bold, rotate }: any) {
  return (
    <div
      style={{
        position: "absolute",
        left: x,
        top: y,
        transform: `translate(-50%,-50%)${rotate ? ` rotate(${rotate}deg)` : ""}`,
        font: `${bold ? "bold " : ""}${size}px ${FONT}`,
        color: INK,
        whiteSpace: "nowrap",
        lineHeight: 1,
      }}
    >
      {children}
    </div>
  );
}

const rule = (left: number, right: number) => (
  <div key={left} style={{ position: "absolute", left, top: 34, width: right - left, height: 2, background: "#111" }} />
);
const hair = (left: number, width: number, top: number, color: string, h: number) => (
  <div key={`${left}-${top}`} style={{ position: "absolute", left, top, width, height: h, background: color }} />
);

const panels = [
  { name: ["Glycolysis"], rows: glycolysis, left: 492, width: 175, cx: 579, m: 537, p: 624, r: [497, 577, 584, 664] },
  { name: ["Fatty Acid", "Oxidation"], rows: fattyAcid, left: 683.5, width: 173, cx: 769, m: 723, p: 812, r: [685, 765, 772, 852] },
  { name: ["Cysteine & Methionine", "Metabolism"], rows: cysteine, left: 874.5, width: 166.5, cx: 959, m: 915, p: 997, r: [873, 954, 961, 1041] },
  { name: ["Oxidative", "Phosphorylation"], rows: oxphos, left: 1058.5, width: 175, cx: 1146.5, m: 1102, p: 1187, r: [1063, 1143, 1149, 1230] },
];

export default function App() {
  return (
    <div style={{ position: "fixed", left: 0, top: 0, width: 1232, height: 508, overflow: "hidden", background: "#fff" }}>
      <Txt x={18} y={15} size={18} bold>A</Txt>
      <Txt x={388} y={15} size={18} bold>B</Txt>
      <Volcano />
      <Txt x={19} y={182} size={18} rotate={-90}>-log p value</Txt>
      <Txt x={220} y={301} size={18}>
        log<sub style={{ fontSize: 11.5, verticalAlign: "-3px", lineHeight: 0 }}>2</sub> Fold Change
      </Txt>
      <Txt x={445} y={26} size={20}>DFMO:</Txt>
      <ColorKey />
      <Txt x={414} y={118} size={14.5}>-3</Txt>
      <Txt x={476.5} y={118} size={14.5}>3</Txt>
      <Txt x={447.5} y={133} size={15.5}>Z-Score</Txt>
      {panels.map((p) => (
        <React.Fragment key={p.left}>
          <Txt x={p.m} y={22} size={17}>(-)</Txt>
          <Txt x={p.p} y={22} size={17}>(+)</Txt>
          {rule(p.r[0], p.r[1])}
          {rule(p.r[2], p.r[3])}
          <Heat rows={p.rows} left={p.left} width={p.width} blur={p.rows === oxphos ? 0.9 : 0.6} />
          {hair(p.left, p.width, 41, "#aaaaaa", 1)}
          {hair(p.left, p.width, 459, "#777777", 1)}
          {p.name.map((n, i) => (
            <Txt key={n} x={p.cx} y={475 + i * 20} size={17}>{n}</Txt>
          ))}
        </React.Fragment>
      ))}
    </div>
  );
}
